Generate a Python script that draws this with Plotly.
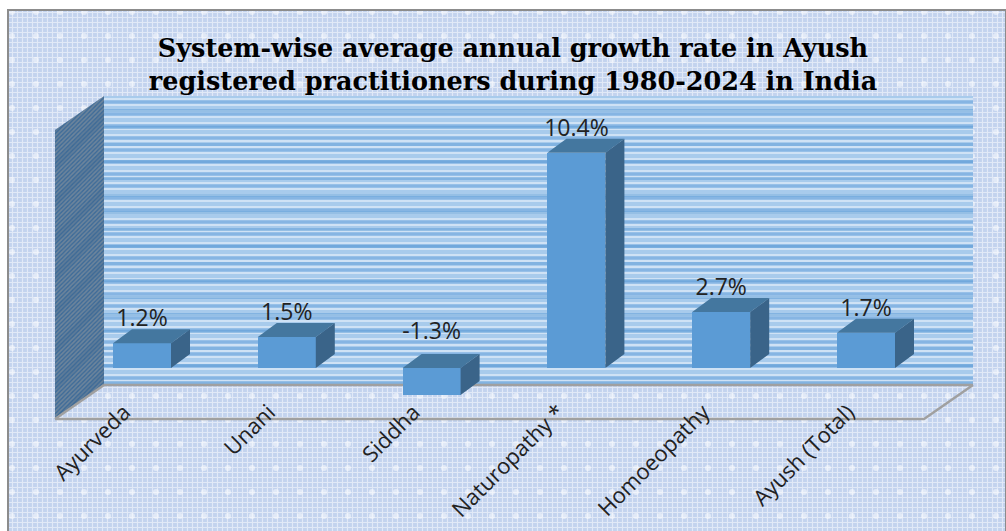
import plotly.graph_objects as go

categories = ["Ayurveda", "Unani", "Siddha", "Naturopathy *", "Homoeopathy", "Ayush (Total)"]
growth_rates = [1.2, 1.5, -1.3, 10.4, 2.7, 1.7]
title_text = "System-wise average annual growth rate in Ayush<br>registered practitioners during 1980-2024 in India"

W, H = 1006, 531
X0_PX, STEP_PX = 142.0, 144.8      # first category centre, category spacing
Y0_PX, UNIT_PX = 368.0, 20.7       # zero line, pixels per percentage point
BAR_W = 58 / STEP_PX
DX, DY = 19 / STEP_PX, 14 / UNIT_PX  # 3-D depth in data units
FRONT, TOP, SIDE = "#5b9bd5", "#44779f", "#3a6489"

fig = go.Figure()


def bg(xs, ys, color=None, pattern=None):
    """Decorative panel in the pixel-space background axes."""
    fig.add_trace(go.Scatter(x=xs, y=ys, mode="lines", line=dict(width=0), fill="toself",
                             fillcolor=color or "rgba(0,0,0,0)", fillpattern=pattern,
                             hoverinfo="skip", showlegend=False, xaxis="x", yaxis="y"))


def line(xs, ys):
    fig.add_trace(go.Scatter(x=xs, y=ys, mode="lines", line=dict(color="#a0a0a0", width=2.5),
                             hoverinfo="skip", showlegend=False, xaxis="x", yaxis="y"))


# chart area texture
px, py = [8, 1006, 1006, 8, 8], [11, 11, 531, 531, 11]
bg(px, py, pattern=dict(shape="+", fgcolor="#ffffff", bgcolor="#c3d3ee", size=5, solidity=0.4, fillmode="overlay"))
bg(px, py, pattern=dict(shape=".", fgcolor="#ffffff", bgcolor="rgba(255,255,255,0)", size=24, solidity=0.05, fillmode="overlay"))

# back wall
wx, wy = [104, 973, 973, 104, 104], [96, 96, 385, 385, 96]
bg(wx, wy, pattern=dict(shape="-", fgcolor="#ffffff", bgcolor="#a8cbec", size=6, solidity=0.3, fillmode="overlay"))
bg(wx, wy, pattern=dict(shape="-", fgcolor="#639fda", bgcolor="rgba(255,255,255,0)", size=12, solidity=0.25, fillmode="overlay"))
bg(wx, wy, pattern=dict(shape="-", fgcolor="#5b9bd5", bgcolor="rgba(255,255,255,0)", size=17, solidity=0.18, fillmode="overlay"))

# side wall
sx, sy = [55, 104, 104, 55, 55], [130, 96, 385, 418, 130]
bg(sx, sy, pattern=dict(shape="/", fgcolor="#a0a0a0", bgcolor="#3f6c98", size=3, solidity=0.5, fillmode="overlay"))
bg(sx, sy, pattern=dict(shape="/", fgcolor="rgba(55,100,145,0.55)", bgcolor="rgba(255,255,255,0)", size=26, solidity=0.3, fillmode="overlay"))

# floor outline
line([104, 973], [385, 385])
line([55, 104], [419, 385])
line([55, 924, 973], [419, 419, 385])

# chart border
fig.add_trace(go.Scatter(x=[8, 8, 1006, 1006], y=[531, 10, 10, 531], mode="lines",
                         line=dict(color="#8c8c8c", width=2), hoverinfo="skip",
                         showlegend=False, xaxis="x", yaxis="y"))

# front faces
xpos = list(range(len(categories)))
fig.add_trace(go.Bar(x=xpos, y=growth_rates, width=BAR_W, marker=dict(color=FRONT, line=dict(width=0)),
                     showlegend=False, xaxis="x2", yaxis="y2"))

# 3-D top and side faces derived from the values
tx, ty, rx, ry = [], [], [], []
for i, v in zip(xpos, growth_rates):
    hi, lo = max(v, 0), min(v, 0)
    l, r = i - BAR_W / 2, i + BAR_W / 2
    tx += [l, r, r + DX, l + DX, l, None]
    ty += [hi, hi, hi + DY, hi + DY, hi, None]
    rx += [r, r + DX, r + DX, r, r, None]
    ry += [lo, lo + DY, hi + DY, hi, lo, None]
for xs, ys, c in ((tx, ty, TOP), (rx, ry, SIDE)):
    fig.add_trace(go.Scatter(x=xs, y=ys, mode="lines", line=dict(width=0), fill="toself", fillcolor=c,
                             hoverinfo="skip", showlegend=False, xaxis="x2", yaxis="y2"))

# data labels
label_y = [max(v, 0) + DY - 3 / UNIT_PX + (0.6 if v < 0 else 0) for v in growth_rates]
fig.add_trace(go.Scatter(x=xpos, y=label_y, mode="text", text=[f"{v:.1f}%" for v in growth_rates],
                         textposition="top center", textfont=dict(family="Open Sans", size=23, color="#222222"),
                         hoverinfo="skip", showlegend=False, xaxis="x2", yaxis="y2"))

fig.update_layout(
    width=W, height=H, autosize=False,
    margin=dict(l=0, r=0, t=0, b=0), paper_bgcolor="#ffffff", plot_bgcolor="rgba(0,0,0,0)",
    bargap=0, showlegend=False,
    title=dict(text=title_text, x=513 / W, xanchor="center", y=1 - 57 / H, yanchor="middle",
               font=dict(family="DejaVu Serif", size=25.5, color="#000000", weight="bold")),
    xaxis=dict(range=[0, W], visible=False, domain=[0, 1], fixedrange=True),
    yaxis=dict(range=[H, 0], visible=False, domain=[0, 1], fixedrange=True),
    xaxis2=dict(range=[-X0_PX / STEP_PX, (W - X0_PX) / STEP_PX], overlaying="x", anchor="free",
                position=(H - 394) / H, tickmode="array", tickvals=xpos, ticktext=categories,
                tickangle=-45, ticklabelshift=-18, showgrid=False, zeroline=False, showline=False, ticks="",
                tickfont=dict(family="Open Sans", size=22, color="#222222"), fixedrange=True),
    yaxis2=dict(range=[(Y0_PX - H) / UNIT_PX, Y0_PX / UNIT_PX], overlaying="y", visible=False,
                showgrid=False, zeroline=False, fixedrange=True),
)

fig.write_html("out.html", config=dict(displayModeBar=False),
               post_script="document.documentElement.style.margin='0';document.body.style.margin='0';")
